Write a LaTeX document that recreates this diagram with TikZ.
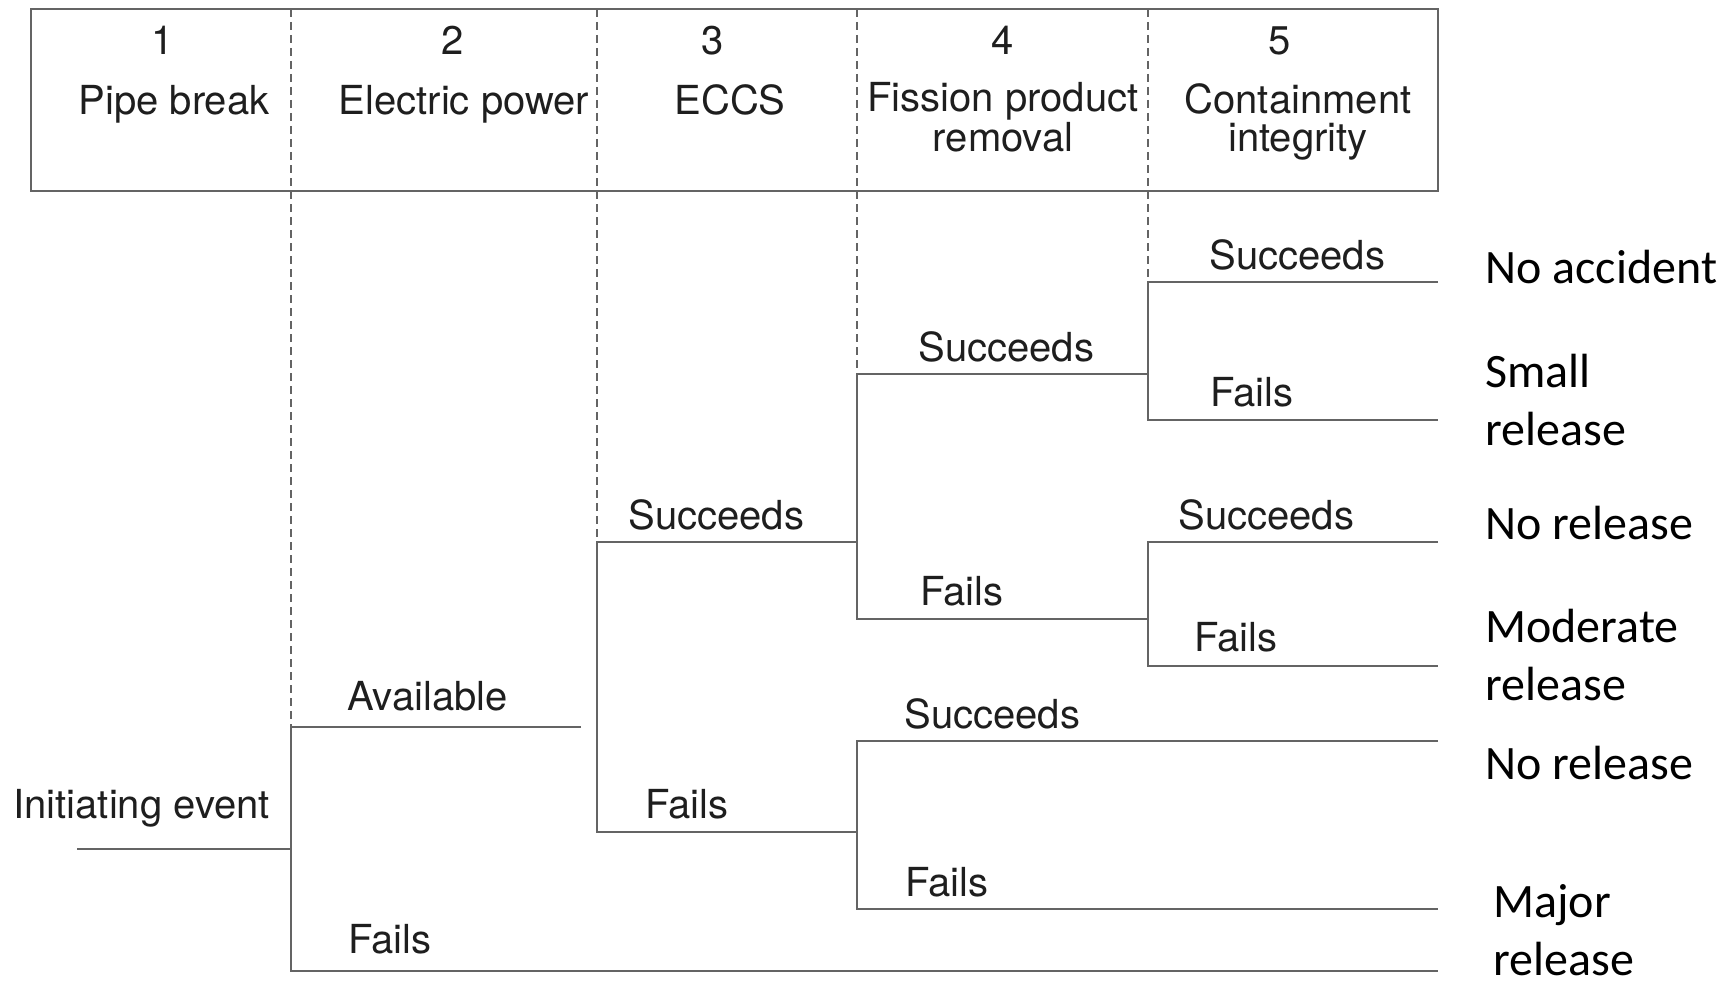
\documentclass[tikz,border=0pt]{standalone}
\usepackage{fontspec}
\setmainfont{TeX Gyre Heros}
\newfontfamily\outcomefont{Carlito}
\usetikzlibrary{positioning}
\definecolor{treegray}{HTML}{646464}
\definecolor{textdark}{HTML}{1E1E1E}

\begin{document}
\begin{tikzpicture}[x=0.5pt, y=-0.5pt]

% --- Style Definitions ---
\tikzstyle{frame}=[draw=treegray, line width=1pt]
\tikzstyle{branch}=[draw=treegray, line width=1pt]
\tikzstyle{divider}=[draw=treegray, line width=0.6pt, dash pattern=on 4pt off 2.5pt]
\tikzstyle{hdr}=[anchor=base, inner sep=0pt, align=center, text=textdark, font=\fontsize{20}{18.8}\selectfont]
\tikzstyle{lbl}=[anchor=base west, inner sep=0pt, text=textdark, font=\fontsize{20}{19}\selectfont]
\tikzstyle{outcome}=[anchor=base west, inner sep=0pt, align=left, font=\outcomefont\fontsize{24}{29}\selectfont]

\useasboundingbox (0,0) rectangle (1734,990);

% --- 1. Header box ---
\draw[frame] (31,9) rectangle (1438,191);
\foreach \x/\y in {291/727, 597/542, 857/374, 1148/282}
  \draw[divider] (\x,9) -- (\x,\y);

\node[hdr] (num_1) at (163,55) {1};
\node[hdr] (num_2) at (453,55) {2};
\node[hdr] (num_3) at (713,55) {3};
\node[hdr] (num_4) at (1003,55) {4};
\node[hdr] (num_5) at (1280,55) {5};

% single-line heads on their baseline, two-line heads on the last line
\node[hdr] (head_1) at (174,114) {Pipe break};
\node[hdr] (head_2) at (464,114) {Electric power};
\node[hdr] (head_3) at (730,114) {ECCS};
\node[hdr] (head_4) at (1003,151) {Fission product\\removal};
\node[hdr] (head_5) at (1298,151) {Containment\\integrity};

% --- 2. Branch points ---
\coordinate (IE_0) at (77,849);
\coordinate (PB) at (291,849);
\coordinate (PW_A) at (291,727);   \coordinate (PW_A_end) at (581,727);
\coordinate (PW_F) at (291,971);   \coordinate (PW_F_end) at (1438,971);
\coordinate (EC_S) at (597,542);   \coordinate (EC_S_end) at (857,542);
\coordinate (EC_F) at (597,832);   \coordinate (EC_F_end) at (857,832);
\coordinate (FP_US) at (857,374);  \coordinate (FP_US_end) at (1148,374);
\coordinate (FP_UF) at (857,619);  \coordinate (FP_UF_end) at (1148,619);
\coordinate (FP_LS) at (857,741);  \coordinate (FP_LS_end) at (1438,741);
\coordinate (FP_LF) at (857,909);  \coordinate (FP_LF_end) at (1438,909);
\coordinate (CI_US) at (1148,282); \coordinate (CI_US_end) at (1438,282);
\coordinate (CI_UF) at (1148,420); \coordinate (CI_UF_end) at (1438,420);
\coordinate (CI_LS) at (1148,542); \coordinate (CI_LS_end) at (1438,542);
\coordinate (CI_LF) at (1148,666); \coordinate (CI_LF_end) at (1438,666);

% --- 3. Tree branches ---
\draw[branch] (IE_0) -- (PB);
\draw[branch] (PW_A_end) -- (PW_A) -- (PW_F) -- (PW_F_end);
\draw[branch] (EC_S_end) -- (EC_S) -- (EC_F) -- (EC_F_end);
\draw[branch] (FP_US_end) -- (FP_US) -- (FP_UF) -- (FP_UF_end);
\draw[branch] (FP_LS_end) -- (FP_LS) -- (FP_LF) -- (FP_LF_end);
\draw[branch] (CI_US_end) -- (CI_US) -- (CI_UF) -- (CI_UF_end);
\draw[branch] (CI_LS_end) -- (CI_LS) -- (CI_LF) -- (CI_LF_end);

% --- 4. Branch labels ---
\node[lbl] (l_ie) at (13,818) {Initiating event};
\node[lbl] (l_pw_a) at (347,710) {Available};
\node[lbl] (l_pw_f) at (348,953) {Fails};
\node[lbl] (l_ec_s) at (628,529) {Succeeds};
\node[lbl] (l_ec_f) at (645,818) {Fails};
\node[lbl] (l_fp_us) at (918,361) {Succeeds};
\node[lbl] (l_fp_uf) at (920,605) {Fails};
\node[lbl] (l_fp_ls) at (904,728) {Succeeds};
\node[lbl] (l_fp_lf) at (905,896) {Fails};
\node[lbl] (l_ci_us) at (1209,269) {Succeeds};
\node[lbl] (l_ci_uf) at (1210,406) {Fails};
\node[lbl] (l_ci_ls) at (1178,529) {Succeeds};
\node[lbl] (l_ci_lf) at (1194,651) {Fails};

% --- 5. Outcomes (two-line ones sit on their last line) ---
\node[outcome] (out_1) at (1485,283) {No accident};
\node[outcome] (out_2) at (1485,445) {Small\\release};
\node[outcome] (out_3) at (1485,539) {No release};
\node[outcome] (out_4) at (1485,700) {Moderate\\release};
\node[outcome] (out_5) at (1485,779) {No release};
\node[outcome] (out_6) at (1493,975) {Major\\release};

\end{tikzpicture}
\end{document}
